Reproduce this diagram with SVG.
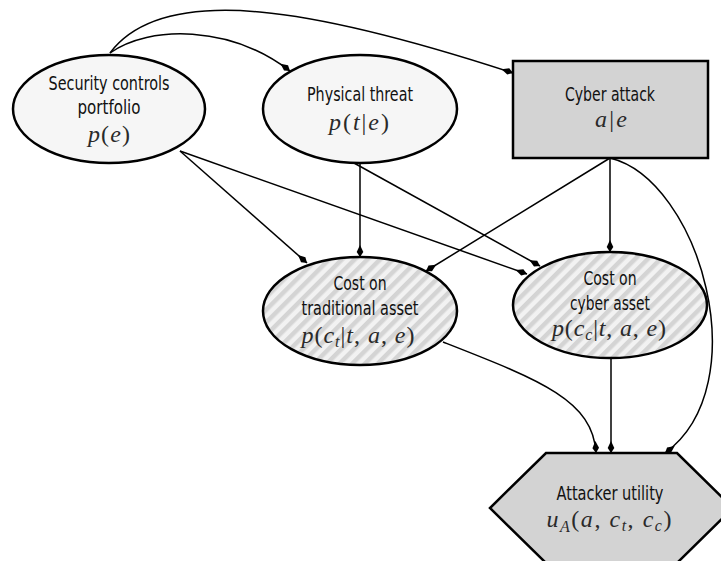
<svg xmlns="http://www.w3.org/2000/svg" width="721" height="561" viewBox="0 0 721 561">
  <defs>
    <style>
      .node { stroke: #000; stroke-width: 2.5; }
      .plain { fill: #f6f6f6; }
      .grey { fill: #d3d3d3; }
      .hatch { fill: url(#stripes); }
      .lbl { font-family: "Liberation Sans Narrow", "DejaVu Sans Condensed", "DejaVu Sans", sans-serif; font-size: 20px; fill: #111; text-anchor: middle; }
      .math { font-family: "Liberation Serif", "DejaVu Serif", serif; font-size: 24px; fill: #2a2a2a; text-anchor: middle; }
      .it { font-style: italic; }
      .sub { font-style: italic; font-size: 16px; }
      .edge { fill: none; stroke: #000; stroke-width: 1.5; marker-end: url(#head); }
    </style>
    <pattern id="stripes" patternUnits="userSpaceOnUse" width="9" height="9" patternTransform="rotate(45)">
      <rect width="9" height="9" fill="#f2f2f2"/>
      <rect width="4.5" height="9" fill="#d4d4d4"/>
    </pattern>
    <marker id="head" viewBox="-13 -5 14 10" refX="0" refY="0" markerWidth="14" markerHeight="10" markerUnits="userSpaceOnUse" orient="auto">
      <path d="M0,0 L-5,-3.3 L-12,0 L-5,3.3 Z" fill="#000"/>
    </marker>
  </defs>

  <!-- connectors -->
  <g id="edges">
    <path class="edge" d="M110,53 C165,-20 320,10 513,73"/>
    <path class="edge" d="M110,53 C150,25 230,25 290,71"/>
    <path class="edge" d="M180,151 L307,263"/>
    <path class="edge" d="M180,151 L527,274"/>
    <path class="edge" d="M360,163 L360,257"/>
    <path class="edge" d="M354,163 L540,266"/>
    <path class="edge" d="M610,158 L426,271"/>
    <path class="edge" d="M610,158 L610,252"/>
    <path class="edge" d="M610,158 C700,180 758,385 665,453"/>
    <path class="edge" d="M443,342 C540,380 593,400 596,453"/>
    <path class="edge" d="M611,357 L611,453"/>
  </g>

  <!-- security controls portfolio -->
  <g id="security">
    <ellipse class="node plain" cx="109" cy="109" rx="96" ry="54"/>
    <text class="lbl" x="109" y="90" textLength="121" lengthAdjust="spacingAndGlyphs">Security controls</text>
    <text class="lbl" x="109" y="114" textLength="63" lengthAdjust="spacingAndGlyphs">portfolio</text>
    <text class="math" x="109" y="142" textLength="42" lengthAdjust="spacing"><tspan class="it">p</tspan>(<tspan class="it">e</tspan>)</text>
  </g>

  <!-- physical threat -->
  <g id="physical">
    <ellipse class="node plain" cx="360" cy="109" rx="97" ry="54"/>
    <text class="lbl" x="360" y="101" textLength="106" lengthAdjust="spacingAndGlyphs">Physical threat</text>
    <text class="math" x="359" y="130" textLength="60" lengthAdjust="spacing"><tspan class="it">p</tspan>(<tspan class="it">t</tspan>|<tspan class="it">e</tspan>)</text>
  </g>

  <!-- cyber attack -->
  <g id="cyber-attack">
    <rect class="node grey" x="513" y="61" width="195" height="97"/>
    <text class="lbl" x="610" y="101" textLength="90" lengthAdjust="spacingAndGlyphs">Cyber attack</text>
    <text class="math" x="611" y="127" textLength="32" lengthAdjust="spacing"><tspan class="it">a</tspan>|<tspan class="it">e</tspan></text>
  </g>

  <!-- cost on traditional asset -->
  <g id="cost-traditional">
    <ellipse class="node hatch" cx="360" cy="311" rx="97" ry="54"/>
    <text class="lbl" x="360" y="290" textLength="53" lengthAdjust="spacingAndGlyphs">Cost on</text>
    <text class="lbl" x="360" y="315" textLength="117" lengthAdjust="spacingAndGlyphs">traditional asset</text>
    <text class="math" x="358" y="343" textLength="113" lengthAdjust="spacing"><tspan class="it">p</tspan>(<tspan class="it">c</tspan><tspan class="sub" dy="4">t</tspan><tspan dy="-4">|</tspan><tspan class="it">t</tspan>, <tspan class="it">a</tspan>, <tspan class="it">e</tspan>)</text>
  </g>

  <!-- cost on cyber asset -->
  <g id="cost-cyber">
    <ellipse class="node hatch" cx="610" cy="305" rx="97" ry="53"/>
    <text class="lbl" x="610" y="285" textLength="53" lengthAdjust="spacingAndGlyphs">Cost on</text>
    <text class="lbl" x="610" y="310" textLength="80" lengthAdjust="spacingAndGlyphs">cyber asset</text>
    <text class="math" x="609" y="336" textLength="114" lengthAdjust="spacing"><tspan class="it">p</tspan>(<tspan class="it">c</tspan><tspan class="sub" dy="4">c</tspan><tspan dy="-4">|</tspan><tspan class="it">t</tspan>, <tspan class="it">a</tspan>, <tspan class="it">e</tspan>)</text>
  </g>

  <!-- attacker utility -->
  <g id="attacker-utility">
    <polygon class="node grey" points="546,453 677,453 733,508 677,563 546,563 490,508"/>
    <text class="lbl" x="610" y="500" textLength="107" lengthAdjust="spacingAndGlyphs">Attacker utility</text>
    <text class="math" x="609" y="527" textLength="125" lengthAdjust="spacing"><tspan class="it">u</tspan><tspan class="sub" dy="5">A</tspan><tspan dy="-5">(</tspan><tspan class="it">a</tspan>, <tspan class="it">c</tspan><tspan class="sub" dy="4">t</tspan><tspan dy="-4">, </tspan><tspan class="it">c</tspan><tspan class="sub" dy="4">c</tspan><tspan dy="-4">)</tspan></text>
  </g>
</svg>
